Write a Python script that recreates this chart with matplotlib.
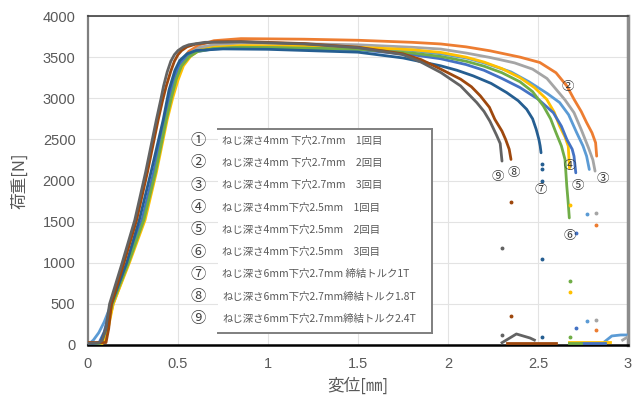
import matplotlib
matplotlib.use("Agg")
import matplotlib.pyplot as plt
from matplotlib.lines import Line2D
from matplotlib.patches import Rectangle

plt.rcParams['font.family'] = ['Noto Sans CJK JP', 'DejaVu Sans']

# displacement [mm] / load [N], one pair per test
x1 = [0.0, 0.03, 0.06, 0.09, 0.13, 0.22, 0.305, 0.37, 0.43, 0.46, 0.49, 0.52, 0.56, 0.61, 0.7, 0.85,
      1.2, 1.5, 1.8, 1.96, 2.1, 2.2, 2.35, 2.45, 2.55, 2.62, 2.67, 2.715, 2.75, 2.77, 2.785]
y1 = [0, 60, 150, 280, 500, 1000, 1520, 2100, 2740, 3020, 3250, 3420, 3530, 3590, 3620, 3630,
      3625, 3610, 3580, 3540, 3490, 3430, 3320, 3200, 3060, 2948, 2800, 2581, 2420, 2296, 2134]
x2 = [0.0, 0.08, 0.1, 0.12, 0.14, 0.225, 0.31, 0.37, 0.43, 0.46, 0.49, 0.52, 0.56, 0.62, 0.7, 0.85,
      1.2, 1.5, 1.8, 1.96, 2.1, 2.233, 2.4, 2.51, 2.6, 2.66, 2.70, 2.74, 2.77, 2.80, 2.82, 2.826]
y2 = [0, 20, 120, 330, 500, 1000, 1520, 2100, 2740, 3050, 3280, 3450, 3570, 3650, 3700, 3725,
      3718, 3705, 3680, 3660, 3625, 3577, 3500, 3435, 3310, 3150, 2988, 2840, 2704, 2580, 2459, 2296]
x3 = [0.0, 0.07, 0.1, 0.135, 0.225, 0.31, 0.375, 0.435, 0.465, 0.495, 0.525, 0.56, 0.62, 0.7, 0.85,
      1.2, 1.5, 1.8, 1.96, 2.1, 2.233, 2.37, 2.47, 2.55, 2.6, 2.65, 2.70, 2.74, 2.78, 2.805, 2.817]
y3 = [0, 20, 150, 500, 1000, 1520, 2100, 2740, 3030, 3260, 3430, 3540, 3620, 3650, 3670,
      3662, 3650, 3620, 3598, 3550, 3496, 3430, 3354, 3240, 3110, 2980, 2825, 2620, 2400, 2250, 2114]
x4 = [0.0, 0.08, 0.11, 0.14, 0.23, 0.317, 0.38, 0.44, 0.47, 0.5, 0.53, 0.57, 0.62, 0.7, 0.85,
      1.2, 1.5, 1.8, 1.96, 2.1, 2.2, 2.3, 2.4, 2.48, 2.548, 2.59, 2.62, 2.65, 2.668, 2.675]
y4 = [0, 20, 180, 500, 1000, 1520, 2100, 2740, 3000, 3220, 3394, 3510, 3585, 3620, 3640,
      3632, 3620, 3590, 3557, 3500, 3440, 3360, 3250, 3130, 2988, 2830, 2662, 2530, 2418, 2150]
x5 = [0.0, 0.06, 0.09, 0.13, 0.22, 0.3, 0.365, 0.425, 0.455, 0.48, 0.51, 0.55, 0.6, 0.7, 0.85,
      1.2, 1.5, 1.8, 1.96, 2.1, 2.2, 2.3, 2.4, 2.5, 2.585, 2.63, 2.66, 2.69, 2.70, 2.71]
y5 = [0, 20, 160, 500, 1000, 1520, 2100, 2740, 3030, 3250, 3420, 3510, 3565, 3600, 3615,
      3605, 3590, 3530, 3480, 3410, 3340, 3240, 3130, 2990, 2825, 2660, 2500, 2380, 2296, 2093]
x6 = [0.0, 0.07, 0.1, 0.135, 0.225, 0.31, 0.375, 0.435, 0.465, 0.49, 0.52, 0.56, 0.61, 0.7, 0.85,
      1.2, 1.5, 1.8, 1.96, 2.1, 2.2, 2.3, 2.4, 2.47, 2.53, 2.57, 2.6, 2.63, 2.65, 2.66, 2.667, 2.674]
y6 = [0, 20, 170, 500, 1000, 1520, 2100, 2740, 3020, 3230, 3394, 3500, 3570, 3605, 3620,
      3610, 3595, 3550, 3508, 3450, 3390, 3310, 3200, 3080, 2906, 2750, 2581, 2420, 2256, 1930, 1750, 1545]
x7 = [0.0, 0.07, 0.1, 0.13, 0.215, 0.285, 0.35, 0.418, 0.45, 0.483, 0.51, 0.55, 0.6, 0.75, 1.0,
      1.5, 1.75, 1.96, 2.05, 2.14, 2.24, 2.326, 2.39, 2.437, 2.47, 2.49, 2.505, 2.512, 2.517]
y7 = [10, 30, 200, 500, 1000, 1520, 2100, 2740, 3100, 3340, 3460, 3540, 3580, 3600, 3595,
      3560, 3490, 3394, 3340, 3272, 3180, 3069, 2970, 2866, 2750, 2622, 2500, 2420, 2337]
x8 = [0.0, 0.1, 0.115, 0.13, 0.2, 0.27, 0.33, 0.39, 0.415, 0.435, 0.46, 0.48, 0.5, 0.52, 0.55, 0.6,
      0.7, 0.85, 1.2, 1.5, 1.75, 1.85, 1.96, 2.07, 2.13, 2.18, 2.23, 2.26, 2.3, 2.32, 2.34, 2.35]
y8 = [30, 30, 200, 500, 1000, 1520, 2100, 2740, 2980, 3150, 3330, 3450, 3530, 3580, 3625, 3660,
      3685, 3690, 3665, 3620, 3540, 3470, 3354, 3232, 3140, 3028, 2890, 2744, 2600, 2500, 2380, 2256]
x9 = [0.0, 0.06, 0.08, 0.1, 0.12, 0.19, 0.26, 0.32, 0.38, 0.405, 0.42, 0.44, 0.46, 0.48, 0.5, 0.53,
      0.56, 0.65, 0.85, 1.2, 1.5, 1.75, 1.85, 1.96, 2.07, 2.16, 2.2, 2.233, 2.27, 2.29, 2.30]
y9 = [20, 25, 60, 220, 500, 1000, 1520, 2100, 2740, 2990, 3150, 3320, 3450, 3530, 3580, 3625,
      3650, 3680, 3685, 3660, 3615, 3530, 3440, 3313, 3150, 2947, 2840, 2720, 2550, 2450, 2236]

# stray points recorded after the screw let go
dots1_x = [2.77, 2.77]
dots1_y = [1590, 293]
dots2_x = [2.82, 2.82]
dots2_y = [1455, 183]
dots3_x = [2.82, 2.82]
dots3_y = [1601, 305]
dots4_x = [2.68, 2.68]
dots4_y = [1707, 650]
dots5_x = [2.71, 2.71]
dots5_y = [1362, 207]
dots6_x = [2.68, 2.68]
dots6_y = [780, 100]
dots7_x = [2.52, 2.52, 2.52, 2.52, 2.52]
dots7_y = [2200, 2134, 2000, 1049, 101]
dots8_x = [2.35, 2.35]
dots8_y = [1735, 357]
dots9_x = [2.30, 2.30]
dots9_y = [1179, 122]

# low load tails near the x axis
tail1_x = [2.87, 2.91, 2.96, 2.99]
tail1_y = [40, 110, 122, 122]
tail3_x = [2.97, 3.0]
tail3_y = [60, 100]
tail4_x = [2.67, 2.9]
tail4_y = [40, 40]
tail5_x = [2.74, 2.87]
tail5_y = [30, 30]
tail6_x = [2.67, 2.74]
tail6_y = [30, 30]
tail8_x = [2.33, 2.6]
tail8_y = [30, 30]
tail9_x = [2.30, 2.38, 2.456, 2.48]
tail9_y = [28, 134, 85, 60]

colors = ['#5B9BD5', '#ED7D31', '#A5A5A5', '#FFC000', '#4472C4',
          '#70AD47', '#255E91', '#9E480E', '#636363']
marks = ['①', '②', '③', '④', '⑤', '⑥', '⑦', '⑧', '⑨']
names = ['ねじ深さ4mm 下穴2.7mm　1回目',
         'ねじ深さ4mm 下穴2.7mm　2回目',
         'ねじ深さ4mm 下穴2.7mm　3回目',
         'ねじ深さ4mm下穴2.5mm　1回目',
         'ねじ深さ4mm下穴2.5mm　2回目',
         'ねじ深さ4mm下穴2.5mm　3回目',
         'ねじ深さ6mm下穴2.7mm 締結トルク1T',
         'ねじ深さ6mm下穴2.7mm締結トルク1.8T',
         'ねじ深さ6mm下穴2.7mm締結トルク2.4T']

curves = [(x1, y1), (x2, y2), (x3, y3), (x4, y4), (x5, y5),
          (x6, y6), (x7, y7), (x8, y8), (x9, y9)]
dots = [(dots1_x, dots1_y), (dots2_x, dots2_y), (dots3_x, dots3_y),
        (dots4_x, dots4_y), (dots5_x, dots5_y), (dots6_x, dots6_y),
        (dots7_x, dots7_y), (dots8_x, dots8_y), (dots9_x, dots9_y)]
tails = [(tail1_x, tail1_y, 0), (tail3_x, tail3_y, 2), (tail4_x, tail4_y, 3),
         (tail5_x, tail5_y, 4), (tail6_x, tail6_y, 5), (tail8_x, tail8_y, 7),
         (tail9_x, tail9_y, 8)]

# where the circled numbers sit next to the curve ends
tags = [('②', 2.667, 3146), ('④', 2.678, 2183), ('⑤', 2.722, 1939),
        ('③', 2.861, 2024), ('⑦', 2.517, 1890), ('⑧', 2.367, 2098),
        ('⑨', 2.278, 2049), ('⑥', 2.678, 1329)]

fig = plt.figure(figsize=(6.32, 3.96), dpi=100)
ax = fig.add_axes([88 / 632, 1 - 345 / 396, 540 / 632, 329 / 396])

for (xs, ys), c in zip(curves, colors):
    ax.plot(xs, ys, color=c, lw=2.0, solid_capstyle='round', solid_joinstyle='round', zorder=3)
for (xs, ys), c in zip(dots, colors):
    ax.plot(xs, ys, ls='none', marker='o', ms=1.8, color=c, zorder=3)
for xs, ys, i in tails:
    ax.plot(xs, ys, color=colors[i], lw=2.0, zorder=3)

for t, x, y in tags:
    ax.text(x, y, t, fontsize=9, color='#333333', ha='center', va='center', zorder=5)

ax.set_xlim(0, 3)
ax.set_ylim(0, 4000)
ax.set_xticks([0, 0.5, 1, 1.5, 2, 2.5, 3])
ax.set_xticklabels(['0', '0.5', '1', '1.5', '2', '2.5', '3'])
ax.set_yticks(range(0, 4001, 500))
ax.tick_params(length=0, labelsize=10.5, labelcolor='#595959', pad=9)
for lab in ax.get_xticklabels() + ax.get_yticklabels():
    lab.set_family(['Liberation Sans', 'DejaVu Sans'])
ax.grid(True, color='#E3E3E3', lw=0.8, zorder=0)
ax.set_axisbelow(True)

ax.spines['left'].set_color('#7F7F7F')
ax.spines['left'].set_linewidth(1.6)
ax.spines['bottom'].set_color('#000000')
ax.spines['bottom'].set_linewidth(1.8)
ax.spines['top'].set_color('#404040')
ax.spines['top'].set_linewidth(1.2)
ax.spines['right'].set_color('#8C8C8C')
ax.spines['right'].set_linewidth(2.5)

ax.set_xlabel('変位[㎜]', fontsize=12, color='#595959', labelpad=4)
ax.set_ylabel('荷重[N]', fontsize=12, color='#595959', labelpad=10)

# hand-made legend box, like the text box in the original sheet
bx0, bx1, by0, by1 = 218 / 632, 432 / 632, 1 - 333 / 396, 1 - 129 / 396
fig.patches.append(Rectangle((bx0, by0), bx1 - bx0, by1 - by0, transform=fig.transFigure,
                             facecolor='white', edgecolor='none', zorder=4))
for xs, ys in [([bx0, bx1], [by1, by1]), ([bx1, bx1], [by0, by1]), ([bx0, bx1], [by0, by0])]:
    fig.lines.append(Line2D(xs, ys, transform=fig.transFigure, color='#7F7F7F', lw=1.4, zorder=5))
for i, (m, n) in enumerate(zip(marks, names)):
    yy = 1 - (140.5 + i * 22.3) / 396
    fig.text(198 / 632, yy, m, fontsize=11, color='#404040', ha='center', va='center', zorder=6)
    fig.text(222 / 632, yy, n, fontsize=7.5, color='#595959', ha='left', va='center', zorder=6)

fig.savefig('out.png', dpi=100)
